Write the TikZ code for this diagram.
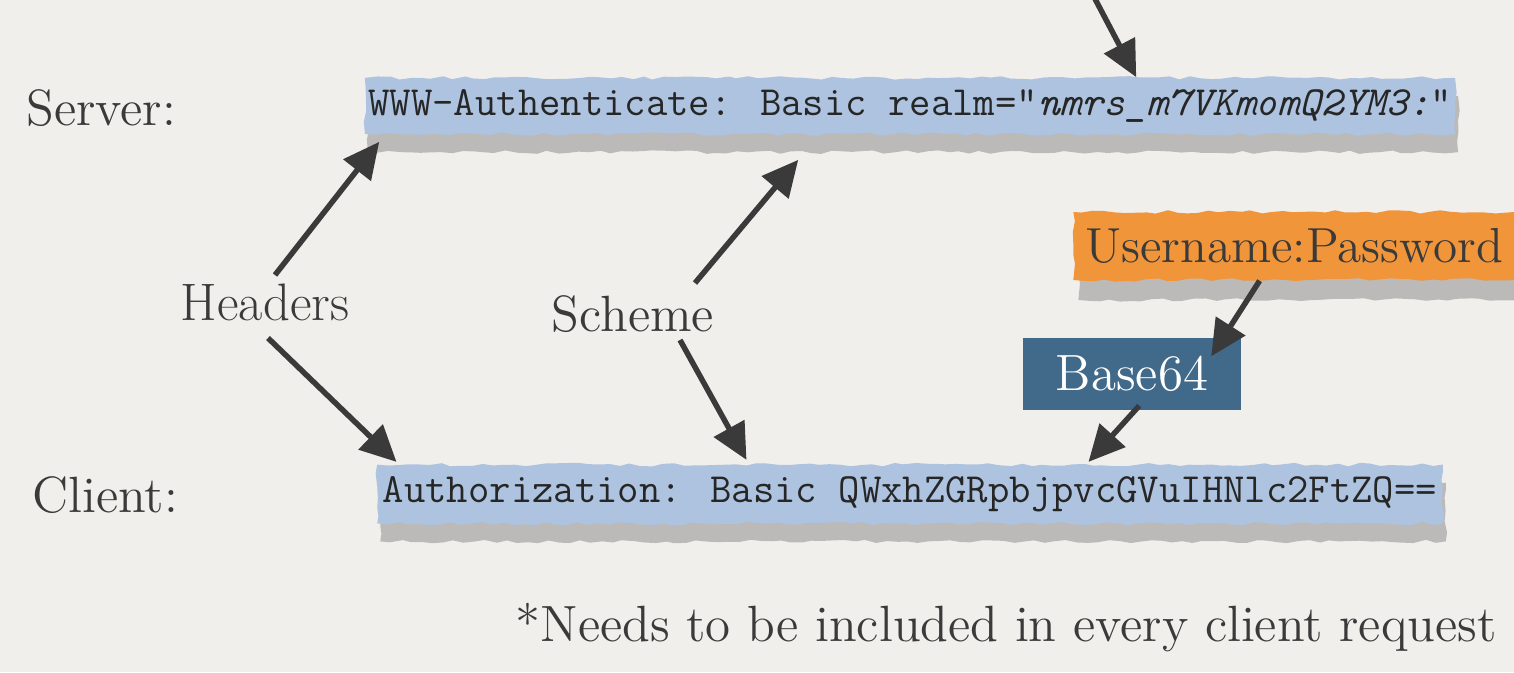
\documentclass[tikz,border=0pt]{standalone}
\usepackage{fontspec}
\usetikzlibrary{arrows.meta,calc,shadows,decorations.pathmorphing}
\definecolor{paper}{HTML}{F0EFEC}
\definecolor{barblue}{HTML}{ADC3DF}
\definecolor{pworange}{HTML}{F0953A}
\definecolor{bluebox}{HTML}{41698A}
\definecolor{ink}{HTML}{3A3A3A}
\tikzset{
  lbl/.style={text=ink, font=\fontsize{14.5}{17}\selectfont},
  bar/.style={fill=barblue, minimum height=0.48cm, inner xsep=1pt,
    font=\ttfamily\fontsize{11.8}{13}\selectfont, text=black!85,
    decorate, decoration={random steps, segment length=3pt, amplitude=0.5pt},
    drop shadow={shadow xshift=0.03cm, shadow yshift=-0.18cm, opacity=0.22, fill=black}},
  pil/.style={draw=ink, line width=0.055cm, -{Triangle[length=0.36cm,width=0.34cm]}}
}
\begin{document}
\begin{tikzpicture}[x=0.01cm,y=-0.01cm]
\fill[paper] (0,0) rectangle (1514,672);
\useasboundingbox (0,0) rectangle (1514,672);
\node[lbl, anchor=west] (server) at (14,108) {Server:};
\node[lbl, anchor=west] (client) at (20,495) {Client:};
\node[bar, minimum width=10.84cm] (www) at (910,106)
  {WWW-Authenticate: Basic realm="\textit{nmrs\_m7VKmomQ2YM3:}"};
\node[bar, minimum width=10.65cm] (auth) at (910,494)
  {Authorization: Basic QWxhZGRpbjpvcGVuIHNlc2FtZQ==};
\node[lbl, font=\fontsize{14}{17}\selectfont, fill=pworange, minimum width=4.32cm, minimum height=0.68cm,
  decorate, decoration={random steps, segment length=3pt, amplitude=0.5pt},
  drop shadow={shadow xshift=0.05cm, shadow yshift=-0.2cm, opacity=0.22, fill=black}] (userpass) at (1294,246) {Username:Password};
\node[lbl, fill=bluebox, text=white, minimum width=2.18cm, minimum height=0.72cm] (base64) at (1132,374) {Base64};
\node[lbl, font=\fontsize{15}{18}\selectfont] (headers) at (265,302) {Headers};
\node[lbl] (scheme) at (633,314) {Scheme};
\node[lbl, anchor=east] (note) at (1509,628) {*Needs to be included in every client request};
\coordinate (top) at (1093,-5);
% arrows
\path[pil] (top) -- ($(www.north west)+(772,0)$);
\path[pil] ($(headers.center)+(10,-27)$) -- ($(www.south west)+(15,7)$);
\path[pil] ($(headers.center)+(3,36)$) -- ($(auth.north west)+(20,-2)$);
\path[pil] ($(scheme.center)+(62,-31)$) -- ($(www.south west)+(434,25)$);
\path[pil] ($(scheme.center)+(47,26)$) -- ($(auth.north west)+(370,-4)$);
\path[pil] ($(userpass.south west)+(187,0)$) -- ($(base64.north west)+(189,19)$);
\path[pil] ($(base64.south west)+(117,-5)$) -- ($(auth.north west)+(712,-2)$);
\end{tikzpicture}
\end{document}
